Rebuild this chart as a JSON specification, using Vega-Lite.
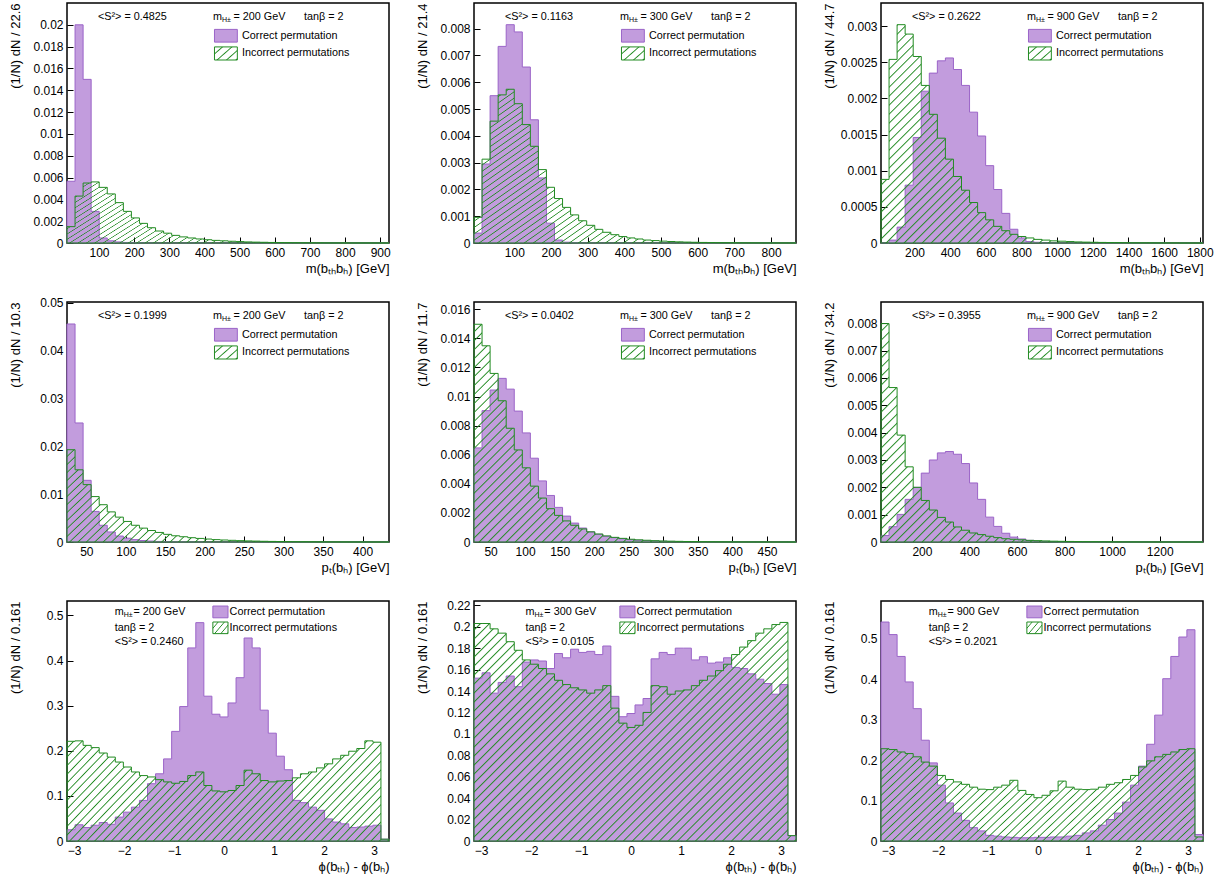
{
"$schema":"https://vega.github.io/schema/vega-lite/v6.json",
"background":"white",
"padding":{"left":8,"top":2,"right":2,"bottom":2},
"config":{
 "font":"Liberation Sans",
 "numberFormat":".6~g",
 "view":{"stroke":"#000","strokeWidth":1.5},
 "axis":{"domain":false,"grid":false,"labelFont":"Liberation Sans","labelFontSize":12,"labelColor":"#000","titleFont":"Liberation Sans","titleFontSize":13,"titleFontWeight":"normal","titleColor":"#000","tickColor":"#000","tickSize":-6,"tickWidth":1,"tickCount":30,"labelPadding":10,"labelFlush":false,"labelOverlap":false,"titleAnchor":"end"},
 "axisY":{"minExtent":39,"maxExtent":39,"titlePadding":6},
 "axisX":{"minExtent":16,"maxExtent":16,"titlePadding":3},
 "text":{"font":"Liberation Sans","fontSize":10.8,"align":"left","baseline":"middle","color":"#000"},
 "style":{
  "hatchB":{"color":{"gradient":"linear","x1":0,"y1":0,"x2":1.1927,"y2":0.3578,"stops":[
{"offset":0,"color":"#228b2200"},{"offset":0.014,"color":"#228b2200"},{"offset":0.017,"color":"#228b22"},
{"offset":0.02,"color":"#228b2200"},{"offset":0.034,"color":"#228b2200"},{"offset":0.037,"color":"#228b22"},
{"offset":0.04,"color":"#228b2200"},{"offset":0.054,"color":"#228b2200"},{"offset":0.057,"color":"#228b22"},
{"offset":0.06,"color":"#228b2200"},{"offset":0.074,"color":"#228b2200"},{"offset":0.077,"color":"#228b22"},
{"offset":0.08,"color":"#228b2200"},{"offset":0.094,"color":"#228b2200"},{"offset":0.097,"color":"#228b22"},
{"offset":0.1,"color":"#228b2200"},{"offset":0.114,"color":"#228b2200"},{"offset":0.117,"color":"#228b22"},
{"offset":0.12,"color":"#228b2200"},{"offset":0.134,"color":"#228b2200"},{"offset":0.137,"color":"#228b22"},
{"offset":0.14,"color":"#228b2200"},{"offset":0.154,"color":"#228b2200"},{"offset":0.157,"color":"#228b22"},
{"offset":0.16,"color":"#228b2200"},{"offset":0.174,"color":"#228b2200"},{"offset":0.177,"color":"#228b22"},
{"offset":0.18,"color":"#228b2200"},{"offset":0.194,"color":"#228b2200"},{"offset":0.197,"color":"#228b22"},
{"offset":0.2,"color":"#228b2200"},{"offset":0.214,"color":"#228b2200"},{"offset":0.217,"color":"#228b22"},
{"offset":0.22,"color":"#228b2200"},{"offset":0.234,"color":"#228b2200"},{"offset":0.237,"color":"#228b22"},
{"offset":0.24,"color":"#228b2200"},{"offset":0.254,"color":"#228b2200"},{"offset":0.257,"color":"#228b22"},
{"offset":0.26,"color":"#228b2200"},{"offset":0.274,"color":"#228b2200"},{"offset":0.277,"color":"#228b22"},
{"offset":0.28,"color":"#228b2200"},{"offset":0.294,"color":"#228b2200"},{"offset":0.297,"color":"#228b22"},
{"offset":0.3,"color":"#228b2200"},{"offset":0.314,"color":"#228b2200"},{"offset":0.317,"color":"#228b22"},
{"offset":0.32,"color":"#228b2200"},{"offset":0.334,"color":"#228b2200"},{"offset":0.337,"color":"#228b22"},
{"offset":0.34,"color":"#228b2200"},{"offset":0.354,"color":"#228b2200"},{"offset":0.357,"color":"#228b22"},
{"offset":0.36,"color":"#228b2200"},{"offset":0.374,"color":"#228b2200"},{"offset":0.377,"color":"#228b22"},
{"offset":0.38,"color":"#228b2200"},{"offset":0.394,"color":"#228b2200"},{"offset":0.397,"color":"#228b22"},
{"offset":0.4,"color":"#228b2200"},{"offset":0.414,"color":"#228b2200"},{"offset":0.417,"color":"#228b22"},
{"offset":0.42,"color":"#228b2200"},{"offset":0.434,"color":"#228b2200"},{"offset":0.437,"color":"#228b22"},
{"offset":0.44,"color":"#228b2200"},{"offset":0.454,"color":"#228b2200"},{"offset":0.457,"color":"#228b22"},
{"offset":0.46,"color":"#228b2200"},{"offset":0.474,"color":"#228b2200"},{"offset":0.477,"color":"#228b22"},
{"offset":0.48,"color":"#228b2200"},{"offset":0.494,"color":"#228b2200"},{"offset":0.497,"color":"#228b22"},
{"offset":0.5,"color":"#228b2200"},{"offset":0.514,"color":"#228b2200"},{"offset":0.517,"color":"#228b22"},
{"offset":0.52,"color":"#228b2200"},{"offset":0.534,"color":"#228b2200"},{"offset":0.537,"color":"#228b22"},
{"offset":0.54,"color":"#228b2200"},{"offset":0.554,"color":"#228b2200"},{"offset":0.557,"color":"#228b22"},
{"offset":0.56,"color":"#228b2200"},{"offset":0.574,"color":"#228b2200"},{"offset":0.577,"color":"#228b22"},
{"offset":0.58,"color":"#228b2200"},{"offset":0.594,"color":"#228b2200"},{"offset":0.597,"color":"#228b22"},
{"offset":0.6,"color":"#228b2200"},{"offset":0.614,"color":"#228b2200"},{"offset":0.617,"color":"#228b22"},
{"offset":0.62,"color":"#228b2200"},{"offset":0.634,"color":"#228b2200"},{"offset":0.637,"color":"#228b22"},
{"offset":0.64,"color":"#228b2200"},{"offset":0.654,"color":"#228b2200"},{"offset":0.657,"color":"#228b22"},
{"offset":0.66,"color":"#228b2200"},{"offset":0.674,"color":"#228b2200"},{"offset":0.677,"color":"#228b22"},
{"offset":0.68,"color":"#228b2200"},{"offset":0.694,"color":"#228b2200"},{"offset":0.697,"color":"#228b22"},
{"offset":0.7,"color":"#228b2200"},{"offset":0.714,"color":"#228b2200"},{"offset":0.717,"color":"#228b22"},
{"offset":0.72,"color":"#228b2200"},{"offset":0.734,"color":"#228b2200"},{"offset":0.737,"color":"#228b22"},
{"offset":0.74,"color":"#228b2200"},{"offset":0.754,"color":"#228b2200"},{"offset":0.757,"color":"#228b22"},
{"offset":0.76,"color":"#228b2200"},{"offset":0.774,"color":"#228b2200"},{"offset":0.777,"color":"#228b22"},
{"offset":0.78,"color":"#228b2200"},{"offset":0.794,"color":"#228b2200"},{"offset":0.797,"color":"#228b22"},
{"offset":0.8,"color":"#228b2200"},{"offset":0.814,"color":"#228b2200"},{"offset":0.817,"color":"#228b22"},
{"offset":0.82,"color":"#228b2200"},{"offset":0.834,"color":"#228b2200"},{"offset":0.837,"color":"#228b22"},
{"offset":0.84,"color":"#228b2200"},{"offset":0.854,"color":"#228b2200"},{"offset":0.857,"color":"#228b22"},
{"offset":0.86,"color":"#228b2200"},{"offset":0.874,"color":"#228b2200"},{"offset":0.877,"color":"#228b22"},
{"offset":0.88,"color":"#228b2200"},{"offset":0.894,"color":"#228b2200"},{"offset":0.897,"color":"#228b22"},
{"offset":0.9,"color":"#228b2200"},{"offset":0.914,"color":"#228b2200"},{"offset":0.917,"color":"#228b22"},
{"offset":0.92,"color":"#228b2200"},{"offset":0.934,"color":"#228b2200"},{"offset":0.937,"color":"#228b22"},
{"offset":0.94,"color":"#228b2200"},{"offset":0.954,"color":"#228b2200"},{"offset":0.957,"color":"#228b22"},
{"offset":0.96,"color":"#228b2200"},{"offset":0.974,"color":"#228b2200"},{"offset":0.977,"color":"#228b22"},
{"offset":0.98,"color":"#228b2200"},{"offset":0.994,"color":"#228b2200"},{"offset":0.997,"color":"#228b22"},
{"offset":1,"color":"#228b2200"}]}},
  "hatchC":{"color":{"gradient":"linear","x1":0,"y1":0,"x2":1.1488,"y2":0.7812,"stops":[
{"offset":0,"color":"#228b2200"},{"offset":0.0117,"color":"#228b2200"},{"offset":0.0142,"color":"#228b22"},
{"offset":0.0167,"color":"#228b2200"},{"offset":0.0284,"color":"#228b2200"},{"offset":0.0309,"color":"#228b22"},
{"offset":0.0333,"color":"#228b2200"},{"offset":0.045,"color":"#228b2200"},{"offset":0.0475,"color":"#228b22"},
{"offset":0.05,"color":"#228b2200"},{"offset":0.0617,"color":"#228b2200"},{"offset":0.0642,"color":"#228b22"},
{"offset":0.0667,"color":"#228b2200"},{"offset":0.0784,"color":"#228b2200"},{"offset":0.0809,"color":"#228b22"},
{"offset":0.0833,"color":"#228b2200"},{"offset":0.095,"color":"#228b2200"},{"offset":0.0975,"color":"#228b22"},
{"offset":0.1,"color":"#228b2200"},{"offset":0.1117,"color":"#228b2200"},{"offset":0.1142,"color":"#228b22"},
{"offset":0.1167,"color":"#228b2200"},{"offset":0.1284,"color":"#228b2200"},{"offset":0.1309,"color":"#228b22"},
{"offset":0.1333,"color":"#228b2200"},{"offset":0.145,"color":"#228b2200"},{"offset":0.1475,"color":"#228b22"},
{"offset":0.15,"color":"#228b2200"},{"offset":0.1617,"color":"#228b2200"},{"offset":0.1642,"color":"#228b22"},
{"offset":0.1667,"color":"#228b2200"},{"offset":0.1784,"color":"#228b2200"},{"offset":0.1809,"color":"#228b22"},
{"offset":0.1833,"color":"#228b2200"},{"offset":0.195,"color":"#228b2200"},{"offset":0.1975,"color":"#228b22"},
{"offset":0.2,"color":"#228b2200"},{"offset":0.2117,"color":"#228b2200"},{"offset":0.2142,"color":"#228b22"},
{"offset":0.2167,"color":"#228b2200"},{"offset":0.2284,"color":"#228b2200"},{"offset":0.2309,"color":"#228b22"},
{"offset":0.2333,"color":"#228b2200"},{"offset":0.245,"color":"#228b2200"},{"offset":0.2475,"color":"#228b22"},
{"offset":0.25,"color":"#228b2200"},{"offset":0.2617,"color":"#228b2200"},{"offset":0.2642,"color":"#228b22"},
{"offset":0.2667,"color":"#228b2200"},{"offset":0.2784,"color":"#228b2200"},{"offset":0.2809,"color":"#228b22"},
{"offset":0.2833,"color":"#228b2200"},{"offset":0.295,"color":"#228b2200"},{"offset":0.2975,"color":"#228b22"},
{"offset":0.3,"color":"#228b2200"},{"offset":0.3117,"color":"#228b2200"},{"offset":0.3142,"color":"#228b22"},
{"offset":0.3167,"color":"#228b2200"},{"offset":0.3284,"color":"#228b2200"},{"offset":0.3309,"color":"#228b22"},
{"offset":0.3333,"color":"#228b2200"},{"offset":0.345,"color":"#228b2200"},{"offset":0.3475,"color":"#228b22"},
{"offset":0.35,"color":"#228b2200"},{"offset":0.3617,"color":"#228b2200"},{"offset":0.3642,"color":"#228b22"},
{"offset":0.3667,"color":"#228b2200"},{"offset":0.3784,"color":"#228b2200"},{"offset":0.3809,"color":"#228b22"},
{"offset":0.3833,"color":"#228b2200"},{"offset":0.395,"color":"#228b2200"},{"offset":0.3975,"color":"#228b22"},
{"offset":0.4,"color":"#228b2200"},{"offset":0.4117,"color":"#228b2200"},{"offset":0.4142,"color":"#228b22"},
{"offset":0.4167,"color":"#228b2200"},{"offset":0.4284,"color":"#228b2200"},{"offset":0.4309,"color":"#228b22"},
{"offset":0.4333,"color":"#228b2200"},{"offset":0.445,"color":"#228b2200"},{"offset":0.4475,"color":"#228b22"},
{"offset":0.45,"color":"#228b2200"},{"offset":0.4617,"color":"#228b2200"},{"offset":0.4642,"color":"#228b22"},
{"offset":0.4667,"color":"#228b2200"},{"offset":0.4784,"color":"#228b2200"},{"offset":0.4809,"color":"#228b22"},
{"offset":0.4833,"color":"#228b2200"},{"offset":0.495,"color":"#228b2200"},{"offset":0.4975,"color":"#228b22"},
{"offset":0.5,"color":"#228b2200"},{"offset":0.5117,"color":"#228b2200"},{"offset":0.5142,"color":"#228b22"},
{"offset":0.5167,"color":"#228b2200"},{"offset":0.5284,"color":"#228b2200"},{"offset":0.5309,"color":"#228b22"},
{"offset":0.5333,"color":"#228b2200"},{"offset":0.545,"color":"#228b2200"},{"offset":0.5475,"color":"#228b22"},
{"offset":0.55,"color":"#228b2200"},{"offset":0.5617,"color":"#228b2200"},{"offset":0.5642,"color":"#228b22"},
{"offset":0.5667,"color":"#228b2200"},{"offset":0.5784,"color":"#228b2200"},{"offset":0.5809,"color":"#228b22"},
{"offset":0.5833,"color":"#228b2200"},{"offset":0.595,"color":"#228b2200"},{"offset":0.5975,"color":"#228b22"},
{"offset":0.6,"color":"#228b2200"},{"offset":0.6117,"color":"#228b2200"},{"offset":0.6142,"color":"#228b22"},
{"offset":0.6167,"color":"#228b2200"},{"offset":0.6284,"color":"#228b2200"},{"offset":0.6309,"color":"#228b22"},
{"offset":0.6333,"color":"#228b2200"},{"offset":0.645,"color":"#228b2200"},{"offset":0.6475,"color":"#228b22"},
{"offset":0.65,"color":"#228b2200"},{"offset":0.6617,"color":"#228b2200"},{"offset":0.6642,"color":"#228b22"},
{"offset":0.6667,"color":"#228b2200"},{"offset":0.6784,"color":"#228b2200"},{"offset":0.6809,"color":"#228b22"},
{"offset":0.6833,"color":"#228b2200"},{"offset":0.695,"color":"#228b2200"},{"offset":0.6975,"color":"#228b22"},
{"offset":0.7,"color":"#228b2200"},{"offset":0.7117,"color":"#228b2200"},{"offset":0.7142,"color":"#228b22"},
{"offset":0.7167,"color":"#228b2200"},{"offset":0.7284,"color":"#228b2200"},{"offset":0.7309,"color":"#228b22"},
{"offset":0.7333,"color":"#228b2200"},{"offset":0.745,"color":"#228b2200"},{"offset":0.7475,"color":"#228b22"},
{"offset":0.75,"color":"#228b2200"},{"offset":0.7617,"color":"#228b2200"},{"offset":0.7642,"color":"#228b22"},
{"offset":0.7667,"color":"#228b2200"},{"offset":0.7784,"color":"#228b2200"},{"offset":0.7809,"color":"#228b22"},
{"offset":0.7833,"color":"#228b2200"},{"offset":0.795,"color":"#228b2200"},{"offset":0.7975,"color":"#228b22"},
{"offset":0.8,"color":"#228b2200"},{"offset":0.8117,"color":"#228b2200"},{"offset":0.8142,"color":"#228b22"},
{"offset":0.8167,"color":"#228b2200"},{"offset":0.8284,"color":"#228b2200"},{"offset":0.8309,"color":"#228b22"},
{"offset":0.8333,"color":"#228b2200"},{"offset":0.845,"color":"#228b2200"},{"offset":0.8475,"color":"#228b22"},
{"offset":0.85,"color":"#228b2200"},{"offset":0.8617,"color":"#228b2200"},{"offset":0.8642,"color":"#228b22"},
{"offset":0.8667,"color":"#228b2200"},{"offset":0.8784,"color":"#228b2200"},{"offset":0.8809,"color":"#228b22"},
{"offset":0.8833,"color":"#228b2200"},{"offset":0.895,"color":"#228b2200"},{"offset":0.8975,"color":"#228b22"},
{"offset":0.9,"color":"#228b2200"},{"offset":0.9117,"color":"#228b2200"},{"offset":0.9142,"color":"#228b22"},
{"offset":0.9167,"color":"#228b2200"},{"offset":0.9284,"color":"#228b2200"},{"offset":0.9309,"color":"#228b22"},
{"offset":0.9333,"color":"#228b2200"},{"offset":0.945,"color":"#228b2200"},{"offset":0.9475,"color":"#228b22"},
{"offset":0.95,"color":"#228b2200"},{"offset":0.9617,"color":"#228b2200"},{"offset":0.9642,"color":"#228b22"},
{"offset":0.9667,"color":"#228b2200"},{"offset":0.9784,"color":"#228b2200"},{"offset":0.9809,"color":"#228b22"},
{"offset":0.9833,"color":"#228b2200"},{"offset":0.995,"color":"#228b2200"},{"offset":0.9975,"color":"#228b22"},
{"offset":1,"color":"#228b2200"}]}},
  "hatchS":{"color":{"gradient":"linear","x1":0,"y1":0,"x2":1.16,"y2":0.754,"stops":[
{"offset":0,"color":"#228b2200"},{"offset":0.175,"color":"#228b2200"},{"offset":0.2125,"color":"#228b22"},
{"offset":0.25,"color":"#228b2200"},{"offset":0.425,"color":"#228b2200"},{"offset":0.4625,"color":"#228b22"},
{"offset":0.5,"color":"#228b2200"},{"offset":0.675,"color":"#228b2200"},{"offset":0.7125,"color":"#228b22"},
{"offset":0.75,"color":"#228b2200"},{"offset":0.925,"color":"#228b2200"},{"offset":0.9625,"color":"#228b22"},
{"offset":1,"color":"#228b2200"}]}}
 }
},
"datasets":{
"p1":[{"x":9,"c":0.00566,"w":0.0015},{"x":31.9,"c":0.02,"w":0.0043},{"x":54.8,"c":0.015,"w":0.0055},{"x":77.7,"c":0.0029,"w":0.0056},{"x":100.6,"c":0.00046,"w":0.0051},{"x":123.5,"c":0.0002,"w":0.0045},{"x":146.4,"c":0.0001,"w":0.0037},{"x":169.3,"c":0.00005,"w":0.0029},{"x":192.2,"c":0.00002,"w":0.0023},{"x":215.1,"c":0.00001,"w":0.0018},{"x":238,"c":0,"w":0.0014},{"x":260.9,"c":0,"w":0.0011},{"x":283.8,"c":0,"w":0.0009},{"x":306.7,"c":0,"w":0.0007},{"x":329.6,"c":0,"w":0.00056},{"x":352.5,"c":0,"w":0.00046},{"x":375.4,"c":0,"w":0.00037},{"x":398.3,"c":0,"w":0.0003},{"x":421.2,"c":0,"w":0.00024},{"x":444.1,"c":0,"w":0.0002},{"x":467,"c":0,"w":0.00016},{"x":489.9,"c":0,"w":0.00013},{"x":512.8,"c":0,"w":0.0001},{"x":535.7,"c":0,"w":0.00008},{"x":558.6,"c":0,"w":0.000065},{"x":581.5,"c":0,"w":0.00005},{"x":604.4,"c":0,"w":0.00004},{"x":627.3,"c":0,"w":0.000032},{"x":650.2,"c":0,"w":0.000025},{"x":673.1,"c":0,"w":0.00002},{"x":696,"c":0,"w":0.000016},{"x":718.9,"c":0,"w":0.000013},{"x":741.8,"c":0,"w":0.00001},{"x":764.7,"c":0,"w":0.000008},{"x":787.6,"c":0,"w":0.000006},{"x":810.5,"c":0,"w":0.000005},{"x":833.4,"c":0,"w":0.000004},{"x":856.3,"c":0,"w":0.000003},{"x":879.2,"c":0,"w":0.000002},{"x":902.1,"c":0,"w":0.000002},{"x":925,"c":0,"w":0.000002}],
"p2":[{"x":-10,"c":0.00037,"w":0.00096},{"x":11.95,"c":0.00295,"w":0.00313},{"x":33.9,"c":0.0055,"w":0.00455},{"x":55.85,"c":0.00734,"w":0.00553},{"x":77.8,"c":0.00815,"w":0.00574},{"x":99.75,"c":0.00788,"w":0.0052},{"x":121.7,"c":0.00657,"w":0.00442},{"x":143.65,"c":0.0046,"w":0.00361},{"x":165.6,"c":0.00243,"w":0.00274},{"x":187.55,"c":0.00074,"w":0.00208},{"x":209.5,"c":0.00011,"w":0.00166},{"x":231.45,"c":0.00003,"w":0.00133},{"x":253.4,"c":0.00001,"w":0.00105},{"x":275.35,"c":0,"w":0.00083},{"x":297.3,"c":0,"w":0.00066},{"x":319.25,"c":0,"w":0.00051},{"x":341.2,"c":0,"w":0.0004},{"x":363.15,"c":0,"w":0.00031},{"x":385.1,"c":0,"w":0.00024},{"x":407.05,"c":0,"w":0.00019},{"x":429,"c":0,"w":0.00015},{"x":450.95,"c":0,"w":0.00011},{"x":472.9,"c":0,"w":0.00009},{"x":494.85,"c":0,"w":0.00007},{"x":516.8,"c":0,"w":0.000055},{"x":538.75,"c":0,"w":0.000043},{"x":560.7,"c":0,"w":0.000034},{"x":582.65,"c":0,"w":0.000027},{"x":604.6,"c":0,"w":0.000021},{"x":626.55,"c":0,"w":0.000016},{"x":648.5,"c":0,"w":0.000012},{"x":670.45,"c":0,"w":0.00001},{"x":692.4,"c":0,"w":0.000008},{"x":714.35,"c":0,"w":0.000006},{"x":736.3,"c":0,"w":0.000005},{"x":758.25,"c":0,"w":0.000004},{"x":780.2,"c":0,"w":0.000003},{"x":802.15,"c":0,"w":0.000002},{"x":824.1,"c":0,"w":0.000002},{"x":846.05,"c":0,"w":0.000001},{"x":868,"c":0,"w":0.000001}],
"p3":[{"x":12,"c":0,"w":0.00088},{"x":57.15,"c":0.00004,"w":0.00254},{"x":102.3,"c":0.00022,"w":0.00302},{"x":147.45,"c":0.0008,"w":0.00289},{"x":192.6,"c":0.00146,"w":0.00258},{"x":237.75,"c":0.0021,"w":0.00218},{"x":282.9,"c":0.00235,"w":0.00178},{"x":328.05,"c":0.00252,"w":0.00145},{"x":373.2,"c":0.00256,"w":0.00116},{"x":418.35,"c":0.0024,"w":0.00092},{"x":463.5,"c":0.00218,"w":0.00073},{"x":508.65,"c":0.00181,"w":0.00056},{"x":553.8,"c":0.00148,"w":0.00042},{"x":598.95,"c":0.00107,"w":0.00032},{"x":644.1,"c":0.00074,"w":0.00023},{"x":689.25,"c":0.00041,"w":0.00017},{"x":734.4,"c":0.00019,"w":0.00012},{"x":779.55,"c":0.00007,"w":0.00009},{"x":824.7,"c":0.00002,"w":0.00007},{"x":869.85,"c":0.00001,"w":0.00005},{"x":915,"c":0,"w":0.00004},{"x":960.15,"c":0,"w":0.00003},{"x":1005.3,"c":0,"w":0.000025},{"x":1050.45,"c":0,"w":0.00002},{"x":1095.6,"c":0,"w":0.000015},{"x":1140.75,"c":0,"w":0.000012},{"x":1185.9,"c":0,"w":0.00001},{"x":1231.05,"c":0,"w":0.000008},{"x":1276.2,"c":0,"w":0.000006},{"x":1321.35,"c":0,"w":0.000005},{"x":1366.5,"c":0,"w":0.000004},{"x":1411.65,"c":0,"w":0.000003},{"x":1456.8,"c":0,"w":0.000002},{"x":1501.95,"c":0,"w":0.000002},{"x":1547.1,"c":0,"w":0.000001},{"x":1592.25,"c":0,"w":0.000001},{"x":1637.4,"c":0,"w":0.000001},{"x":1682.55,"c":0,"w":0},{"x":1727.7,"c":0,"w":0},{"x":1772.85,"c":0,"w":0},{"x":1818,"c":0,"w":0}],
"p4":[{"x":25.5,"c":0.0456,"w":0.0193},{"x":35.7,"c":0.0249,"w":0.0151},{"x":45.9,"c":0.0129,"w":0.012},{"x":56.1,"c":0.0064,"w":0.0095},{"x":66.3,"c":0.0035,"w":0.0078},{"x":76.5,"c":0.0021,"w":0.0063},{"x":86.7,"c":0.00125,"w":0.0052},{"x":96.9,"c":0.0008,"w":0.0043},{"x":107.1,"c":0.0005,"w":0.0035},{"x":117.3,"c":0.0003,"w":0.0029},{"x":127.5,"c":0.0002,"w":0.0024},{"x":137.7,"c":0.00012,"w":0.002},{"x":147.9,"c":0.00008,"w":0.0016},{"x":158.1,"c":0.00005,"w":0.0013},{"x":168.3,"c":0.00003,"w":0.0011},{"x":178.5,"c":0.00002,"w":0.0009},{"x":188.7,"c":0.00001,"w":0.00075},{"x":198.9,"c":0,"w":0.00062},{"x":209.1,"c":0,"w":0.0005},{"x":219.3,"c":0,"w":0.00042},{"x":229.5,"c":0,"w":0.00035},{"x":239.7,"c":0,"w":0.00028},{"x":249.9,"c":0,"w":0.00023},{"x":260.1,"c":0,"w":0.00019},{"x":270.3,"c":0,"w":0.00015},{"x":280.5,"c":0,"w":0.00012},{"x":290.7,"c":0,"w":0.0001},{"x":300.9,"c":0,"w":0.00008},{"x":311.1,"c":0,"w":0.00006},{"x":321.3,"c":0,"w":0.00005},{"x":331.5,"c":0,"w":0.00004},{"x":341.7,"c":0,"w":0.00003},{"x":351.9,"c":0,"w":0.000025},{"x":362.1,"c":0,"w":0.00002},{"x":372.3,"c":0,"w":0.000015},{"x":382.5,"c":0,"w":0.00001},{"x":392.7,"c":0,"w":0.000008},{"x":402.9,"c":0,"w":0.000006},{"x":413.1,"c":0,"w":0.000005},{"x":423.3,"c":0,"w":0.000004},{"x":433.5,"c":0,"w":0.000004}],
"p5":[{"x":26,"c":0.00647,"w":0.01497},{"x":37.65,"c":0.00903,"w":0.01349},{"x":49.3,"c":0.01045,"w":0.01159},{"x":60.95,"c":0.01125,"w":0.00971},{"x":72.6,"c":0.01051,"w":0.00782},{"x":84.25,"c":0.009,"w":0.00633},{"x":95.9,"c":0.0075,"w":0.0051},{"x":107.55,"c":0.00576,"w":0.00384},{"x":119.2,"c":0.0042,"w":0.00302},{"x":130.85,"c":0.0032,"w":0.00229},{"x":142.5,"c":0.00238,"w":0.00183},{"x":154.15,"c":0.00178,"w":0.00145},{"x":165.8,"c":0.0013,"w":0.00115},{"x":177.45,"c":0.00096,"w":0.0009},{"x":189.1,"c":0.00069,"w":0.0007},{"x":200.75,"c":0.00053,"w":0.00055},{"x":212.4,"c":0.00039,"w":0.00042},{"x":224.05,"c":0.0003,"w":0.00032},{"x":235.7,"c":0.00022,"w":0.00025},{"x":247.35,"c":0.00016,"w":0.00019},{"x":259,"c":0.00012,"w":0.00015},{"x":270.65,"c":0.00009,"w":0.00012},{"x":282.3,"c":0.00007,"w":0.00009},{"x":293.95,"c":0.00005,"w":0.00007},{"x":305.6,"c":0.00004,"w":0.000055},{"x":317.25,"c":0.00003,"w":0.000045},{"x":328.9,"c":0.00002,"w":0.000035},{"x":340.55,"c":0.000015,"w":0.000028},{"x":352.2,"c":0.00001,"w":0.000022},{"x":363.85,"c":0.000008,"w":0.000017},{"x":375.5,"c":0.000006,"w":0.000013},{"x":387.15,"c":0.000004,"w":0.00001},{"x":398.8,"c":0.000003,"w":0.000008},{"x":410.45,"c":0.000002,"w":0.000006},{"x":422.1,"c":0.000002,"w":0.000005},{"x":433.75,"c":0.000001,"w":0.000004},{"x":445.4,"c":0,"w":0.000003},{"x":457.05,"c":0,"w":0.000002},{"x":468.7,"c":0,"w":0.000002},{"x":480.35,"c":0,"w":0.000001},{"x":492,"c":0,"w":0.000001}],
"p6":[{"x":28,"c":0.00024,"w":0.00799},{"x":61.85,"c":0.00056,"w":0.00565},{"x":95.7,"c":0.00101,"w":0.00391},{"x":129.55,"c":0.00156,"w":0.00275},{"x":163.4,"c":0.002,"w":0.002},{"x":197.25,"c":0.00252,"w":0.00152},{"x":231.1,"c":0.003,"w":0.00117},{"x":264.95,"c":0.00326,"w":0.0009},{"x":298.8,"c":0.00331,"w":0.00073},{"x":332.65,"c":0.00321,"w":0.00055},{"x":366.5,"c":0.00287,"w":0.00043},{"x":400.35,"c":0.00216,"w":0.00033},{"x":434.2,"c":0.00156,"w":0.00027},{"x":468.05,"c":0.00091,"w":0.00021},{"x":501.9,"c":0.00057,"w":0.00016},{"x":535.75,"c":0.00032,"w":0.00012},{"x":569.6,"c":0.00018,"w":0.0001},{"x":603.45,"c":0.00011,"w":0.00008},{"x":637.3,"c":0.00006,"w":0.00006},{"x":671.15,"c":0.00003,"w":0.00005},{"x":705,"c":0.00002,"w":0.00004},{"x":738.85,"c":0.00001,"w":0.00003},{"x":772.7,"c":0,"w":0.000025},{"x":806.55,"c":0,"w":0.00002},{"x":840.4,"c":0,"w":0.000015},{"x":874.25,"c":0,"w":0.000012},{"x":908.1,"c":0,"w":0.00001},{"x":941.95,"c":0,"w":0.000008},{"x":975.8,"c":0,"w":0.000006},{"x":1009.65,"c":0,"w":0.000005},{"x":1043.5,"c":0,"w":0.000004},{"x":1077.35,"c":0,"w":0.000003},{"x":1111.2,"c":0,"w":0.000002},{"x":1145.05,"c":0,"w":0.000002},{"x":1178.9,"c":0,"w":0.000001},{"x":1212.75,"c":0,"w":0.000001},{"x":1246.6,"c":0,"w":0},{"x":1280.45,"c":0,"w":0},{"x":1314.3,"c":0,"w":0},{"x":1348.15,"c":0,"w":0},{"x":1382,"c":0,"w":0}],
"p7":[{"x":-3.1416,"c":0.025,"w":0.221},{"x":-2.9806,"c":0.036,"w":0.222},{"x":-2.8196,"c":0.03,"w":0.212},{"x":-2.6586,"c":0.035,"w":0.207},{"x":-2.4976,"c":0.041,"w":0.195},{"x":-2.3366,"c":0.037,"w":0.186},{"x":-2.1756,"c":0.053,"w":0.175},{"x":-2.0146,"c":0.064,"w":0.164},{"x":-1.8536,"c":0.075,"w":0.153},{"x":-1.6926,"c":0.09,"w":0.145},{"x":-1.5316,"c":0.127,"w":0.142},{"x":-1.3706,"c":0.149,"w":0.136},{"x":-1.2096,"c":0.182,"w":0.131},{"x":-1.0486,"c":0.243,"w":0.128},{"x":-0.8876,"c":0.298,"w":0.132},{"x":-0.7266,"c":0.428,"w":0.145},{"x":-0.5656,"c":0.484,"w":0.153},{"x":-0.4046,"c":0.321,"w":0.123},{"x":-0.2436,"c":0.281,"w":0.111},{"x":-0.0826,"c":0.275,"w":0.109},{"x":0.0784,"c":0.306,"w":0.112},{"x":0.2394,"c":0.362,"w":0.123},{"x":0.4004,"c":0.45,"w":0.157},{"x":0.5614,"c":0.428,"w":0.149},{"x":0.7224,"c":0.29,"w":0.134},{"x":0.8834,"c":0.239,"w":0.131},{"x":1.0444,"c":0.188,"w":0.133},{"x":1.2054,"c":0.158,"w":0.134},{"x":1.3664,"c":0.09,"w":0.14},{"x":1.5274,"c":0.085,"w":0.149},{"x":1.6884,"c":0.075,"w":0.153},{"x":1.8494,"c":0.068,"w":0.162},{"x":2.0104,"c":0.049,"w":0.171},{"x":2.1714,"c":0.042,"w":0.182},{"x":2.3324,"c":0.038,"w":0.19},{"x":2.4934,"c":0.03,"w":0.199},{"x":2.6544,"c":0.031,"w":0.205},{"x":2.8154,"c":0.033,"w":0.222},{"x":2.9764,"c":0.035,"w":0.219},{"x":3.1374,"c":0.004,"w":0.004},{"x":3.2984,"c":0.004,"w":0.004}],
"p8":[{"x":-3.1416,"c":0.152,"w":0.203},{"x":-2.9806,"c":0.157,"w":0.203},{"x":-2.8196,"c":0.138,"w":0.198},{"x":-2.6586,"c":0.148,"w":0.194},{"x":-2.4976,"c":0.154,"w":0.186},{"x":-2.3366,"c":0.144,"w":0.178},{"x":-2.1756,"c":0.167,"w":0.169},{"x":-2.0146,"c":0.169,"w":0.165},{"x":-1.8536,"c":0.168,"w":0.161},{"x":-1.6926,"c":0.161,"w":0.156},{"x":-1.5316,"c":0.175,"w":0.15},{"x":-1.3706,"c":0.171,"w":0.146},{"x":-1.2096,"c":0.179,"w":0.143},{"x":-1.0486,"c":0.176,"w":0.141},{"x":-0.8876,"c":0.177,"w":0.138},{"x":-0.7266,"c":0.174,"w":0.141},{"x":-0.5656,"c":0.182,"w":0.145},{"x":-0.4046,"c":0.135,"w":0.124},{"x":-0.2436,"c":0.116,"w":0.11},{"x":-0.0826,"c":0.119,"w":0.106},{"x":0.0784,"c":0.127,"w":0.108},{"x":0.2394,"c":0.133,"w":0.12},{"x":0.4004,"c":0.17,"w":0.145},{"x":0.5614,"c":0.176,"w":0.144},{"x":0.7224,"c":0.174,"w":0.137},{"x":0.8834,"c":0.18,"w":0.14},{"x":1.0444,"c":0.18,"w":0.141},{"x":1.2054,"c":0.169,"w":0.145},{"x":1.3664,"c":0.172,"w":0.15},{"x":1.5274,"c":0.166,"w":0.154},{"x":1.6884,"c":0.167,"w":0.159},{"x":1.8494,"c":0.171,"w":0.165},{"x":2.0104,"c":0.162,"w":0.174},{"x":2.1714,"c":0.161,"w":0.181},{"x":2.3324,"c":0.156,"w":0.187},{"x":2.4934,"c":0.151,"w":0.194},{"x":2.6544,"c":0.147,"w":0.198},{"x":2.8154,"c":0.137,"w":0.202},{"x":2.9764,"c":0.146,"w":0.204},{"x":3.1374,"c":0.005,"w":0.005},{"x":3.2984,"c":0.005,"w":0.005}],
"p9":[{"x":-3.1416,"c":0.541,"w":0.228},{"x":-2.9806,"c":0.51,"w":0.226},{"x":-2.8196,"c":0.456,"w":0.22},{"x":-2.6586,"c":0.393,"w":0.216},{"x":-2.4976,"c":0.327,"w":0.208},{"x":-2.3366,"c":0.249,"w":0.195},{"x":-2.1756,"c":0.193,"w":0.185},{"x":-2.0146,"c":0.138,"w":0.162},{"x":-1.8536,"c":0.094,"w":0.152},{"x":-1.6926,"c":0.069,"w":0.146},{"x":-1.5316,"c":0.051,"w":0.14},{"x":-1.3706,"c":0.033,"w":0.133},{"x":-1.2096,"c":0.025,"w":0.128},{"x":-1.0486,"c":0.014,"w":0.127},{"x":-0.8876,"c":0.012,"w":0.133},{"x":-0.7266,"c":0.01,"w":0.138},{"x":-0.5656,"c":0.009,"w":0.15},{"x":-0.4046,"c":0.008,"w":0.125},{"x":-0.2436,"c":0.008,"w":0.115},{"x":-0.0826,"c":0.009,"w":0.107},{"x":0.0784,"c":0.009,"w":0.113},{"x":0.2394,"c":0.01,"w":0.124},{"x":0.4004,"c":0.01,"w":0.148},{"x":0.5614,"c":0.012,"w":0.133},{"x":0.7224,"c":0.014,"w":0.128},{"x":0.8834,"c":0.02,"w":0.127},{"x":1.0444,"c":0.025,"w":0.128},{"x":1.2054,"c":0.039,"w":0.133},{"x":1.3664,"c":0.053,"w":0.14},{"x":1.5274,"c":0.069,"w":0.144},{"x":1.6884,"c":0.096,"w":0.152},{"x":1.8494,"c":0.138,"w":0.162},{"x":2.0104,"c":0.185,"w":0.183},{"x":2.1714,"c":0.239,"w":0.198},{"x":2.3324,"c":0.311,"w":0.208},{"x":2.4934,"c":0.401,"w":0.214},{"x":2.6544,"c":0.456,"w":0.22},{"x":2.8154,"c":0.504,"w":0.226},{"x":2.9764,"c":0.522,"w":0.228},{"x":3.1374,"c":0.016,"w":0.01},{"x":3.2984,"c":0.016,"w":0.01}]
},
"columns":3,
"spacing":{"row":59,"column":85},
"bounds":"flush",
"concat":[
{"width":322,"height":240,"resolve":{"scale":{"x":"independent","y":"independent"}},"layer":[
 {"data":{"name":"p1"},"layer":[
  {"mark":{"type":"area","interpolate":"step-after","fill":"#c29cdd","stroke":"#9b64c8","strokeWidth":1},"encoding":{"x":{"field":"x","type":"quantitative","scale":{"domain":[9,925],"nice":false,"zero":false},"axis":{"values":[100,200,300,400,500,600,700,800,900],"title":"m(bₜₕbₕ) [GeV]"}},"y":{"field":"c","type":"quantitative","scale":{"domain":[0,0.022],"nice":false},"axis":{"values":[0,0.002,0.004,0.006,0.008,0.01,0.012,0.014,0.016,0.018,0.02],"title":"(1/N) dN / 22.6"}}}},
  {"mark":{"type":"area","interpolate":"step-after","style":"hatchB","stroke":"#228b22","strokeWidth":1},"encoding":{"x":{"field":"x","type":"quantitative"},"y":{"field":"w","type":"quantitative"}}}]},
 {"data":{"values":[{}]},"layer":[
  {"mark":{"type":"text","text":"<S²> = 0.4825"},"encoding":{"x":{"datum":0.0963,"scale":{"domain":[0,1]},"axis":null},"y":{"datum":0.058,"scale":{"domain":[0,1],"reverse":true},"axis":null}}},
  {"mark":{"type":"text","text":"m"},"encoding":{"x":{"datum":0.4534,"axis":null},"y":{"datum":0.058,"axis":null}}},
  {"mark":{"type":"text","text":"H±","fontSize":7,"dy":3},"encoding":{"x":{"datum":0.4814,"axis":null},"y":{"datum":0.058,"axis":null}}},
  {"mark":{"type":"text","text":"= 200 GeV"},"encoding":{"x":{"datum":0.517,"axis":null},"y":{"datum":0.058,"axis":null}}},
  {"mark":{"type":"text","text":"tanβ = 2"},"encoding":{"x":{"datum":0.736,"axis":null},"y":{"datum":0.058,"axis":null}}},
  {"mark":{"type":"rect","fill":"#c29cdd","stroke":"#9b64c8"},"encoding":{"x":{"datum":0.458,"axis":null},"x2":{"datum":0.529},"y":{"datum":0.11,"axis":null},"y2":{"datum":0.163}}},
  {"mark":{"type":"rect","style":"hatchS","stroke":"#228b22"},"encoding":{"x":{"datum":0.458,"axis":null},"x2":{"datum":0.529},"y":{"datum":0.183,"axis":null},"y2":{"datum":0.2375}}},
  {"mark":{"type":"text","text":"Correct permutation"},"encoding":{"x":{"datum":0.5435,"axis":null},"y":{"datum":0.136,"axis":null}}},
  {"mark":{"type":"text","text":"Incorrect permutations"},"encoding":{"x":{"datum":0.5435,"axis":null},"y":{"datum":0.21,"axis":null}}}]}]},
{"width":322,"height":240,"resolve":{"scale":{"x":"independent","y":"independent"}},"layer":[
 {"data":{"name":"p2"},"layer":[
  {"mark":{"type":"area","interpolate":"step-after","fill":"#c29cdd","stroke":"#9b64c8","strokeWidth":1},"encoding":{"x":{"field":"x","type":"quantitative","scale":{"domain":[-10,868],"nice":false,"zero":false},"axis":{"values":[100,200,300,400,500,600,700,800],"title":"m(bₜₕbₕ) [GeV]"}},"y":{"field":"c","type":"quantitative","scale":{"domain":[0,0.00896],"nice":false},"axis":{"values":[0,0.001,0.002,0.003,0.004,0.005,0.006,0.007,0.008],"title":"(1/N) dN / 21.4"}}}},
  {"mark":{"type":"area","interpolate":"step-after","style":"hatchC","stroke":"#228b22","strokeWidth":1},"encoding":{"x":{"field":"x","type":"quantitative"},"y":{"field":"w","type":"quantitative"}}}]},
 {"data":{"values":[{}]},"layer":[
  {"mark":{"type":"text","text":"<S²> = 0.1163"},"encoding":{"x":{"datum":0.0963,"scale":{"domain":[0,1]},"axis":null},"y":{"datum":0.058,"scale":{"domain":[0,1],"reverse":true},"axis":null}}},
  {"mark":{"type":"text","text":"m"},"encoding":{"x":{"datum":0.4534,"axis":null},"y":{"datum":0.058,"axis":null}}},
  {"mark":{"type":"text","text":"H±","fontSize":7,"dy":3},"encoding":{"x":{"datum":0.4814,"axis":null},"y":{"datum":0.058,"axis":null}}},
  {"mark":{"type":"text","text":"= 300 GeV"},"encoding":{"x":{"datum":0.517,"axis":null},"y":{"datum":0.058,"axis":null}}},
  {"mark":{"type":"text","text":"tanβ = 2"},"encoding":{"x":{"datum":0.736,"axis":null},"y":{"datum":0.058,"axis":null}}},
  {"mark":{"type":"rect","fill":"#c29cdd","stroke":"#9b64c8"},"encoding":{"x":{"datum":0.458,"axis":null},"x2":{"datum":0.529},"y":{"datum":0.11,"axis":null},"y2":{"datum":0.163}}},
  {"mark":{"type":"rect","style":"hatchS","stroke":"#228b22"},"encoding":{"x":{"datum":0.458,"axis":null},"x2":{"datum":0.529},"y":{"datum":0.183,"axis":null},"y2":{"datum":0.2375}}},
  {"mark":{"type":"text","text":"Correct permutation"},"encoding":{"x":{"datum":0.5435,"axis":null},"y":{"datum":0.136,"axis":null}}},
  {"mark":{"type":"text","text":"Incorrect permutations"},"encoding":{"x":{"datum":0.5435,"axis":null},"y":{"datum":0.21,"axis":null}}}]}]},
{"width":322,"height":240,"resolve":{"scale":{"x":"independent","y":"independent"}},"layer":[
 {"data":{"name":"p3"},"layer":[
  {"mark":{"type":"area","interpolate":"step-after","fill":"#c29cdd","stroke":"#9b64c8","strokeWidth":1},"encoding":{"x":{"field":"x","type":"quantitative","scale":{"domain":[12,1818],"nice":false,"zero":false},"axis":{"values":[200,400,600,800,1000,1200,1400,1600,1800],"title":"m(bₜₕbₕ) [GeV]"}},"y":{"field":"c","type":"quantitative","scale":{"domain":[0,0.00332],"nice":false},"axis":{"values":[0,0.0005,0.001,0.0015,0.002,0.0025,0.003],"title":"(1/N) dN / 44.7"}}}},
  {"mark":{"type":"area","interpolate":"step-after","style":"hatchC","stroke":"#228b22","strokeWidth":1},"encoding":{"x":{"field":"x","type":"quantitative"},"y":{"field":"w","type":"quantitative"}}}]},
 {"data":{"values":[{}]},"layer":[
  {"mark":{"type":"text","text":"<S²> = 0.2622"},"encoding":{"x":{"datum":0.0963,"scale":{"domain":[0,1]},"axis":null},"y":{"datum":0.058,"scale":{"domain":[0,1],"reverse":true},"axis":null}}},
  {"mark":{"type":"text","text":"m"},"encoding":{"x":{"datum":0.4534,"axis":null},"y":{"datum":0.058,"axis":null}}},
  {"mark":{"type":"text","text":"H±","fontSize":7,"dy":3},"encoding":{"x":{"datum":0.4814,"axis":null},"y":{"datum":0.058,"axis":null}}},
  {"mark":{"type":"text","text":"= 900 GeV"},"encoding":{"x":{"datum":0.517,"axis":null},"y":{"datum":0.058,"axis":null}}},
  {"mark":{"type":"text","text":"tanβ = 2"},"encoding":{"x":{"datum":0.736,"axis":null},"y":{"datum":0.058,"axis":null}}},
  {"mark":{"type":"rect","fill":"#c29cdd","stroke":"#9b64c8"},"encoding":{"x":{"datum":0.458,"axis":null},"x2":{"datum":0.529},"y":{"datum":0.11,"axis":null},"y2":{"datum":0.163}}},
  {"mark":{"type":"rect","style":"hatchS","stroke":"#228b22"},"encoding":{"x":{"datum":0.458,"axis":null},"x2":{"datum":0.529},"y":{"datum":0.183,"axis":null},"y2":{"datum":0.2375}}},
  {"mark":{"type":"text","text":"Correct permutation"},"encoding":{"x":{"datum":0.5435,"axis":null},"y":{"datum":0.136,"axis":null}}},
  {"mark":{"type":"text","text":"Incorrect permutations"},"encoding":{"x":{"datum":0.5435,"axis":null},"y":{"datum":0.21,"axis":null}}}]}]},
{"width":322,"height":240,"resolve":{"scale":{"x":"independent","y":"independent"}},"layer":[
 {"data":{"name":"p4"},"layer":[
  {"mark":{"type":"area","interpolate":"step-after","fill":"#c29cdd","stroke":"#9b64c8","strokeWidth":1},"encoding":{"x":{"field":"x","type":"quantitative","scale":{"domain":[25.5,433.5],"nice":false,"zero":false},"axis":{"values":[50,100,150,200,250,300,350,400],"title":"pₜ(bₕ) [GeV]"}},"y":{"field":"c","type":"quantitative","scale":{"domain":[0,0.0502],"nice":false},"axis":{"values":[0,0.01,0.02,0.03,0.04,0.05],"title":"(1/N) dN / 10.3"}}}},
  {"mark":{"type":"area","interpolate":"step-after","style":"hatchB","stroke":"#228b22","strokeWidth":1},"encoding":{"x":{"field":"x","type":"quantitative"},"y":{"field":"w","type":"quantitative"}}}]},
 {"data":{"values":[{}]},"layer":[
  {"mark":{"type":"text","text":"<S²> = 0.1999"},"encoding":{"x":{"datum":0.0963,"scale":{"domain":[0,1]},"axis":null},"y":{"datum":0.058,"scale":{"domain":[0,1],"reverse":true},"axis":null}}},
  {"mark":{"type":"text","text":"m"},"encoding":{"x":{"datum":0.4534,"axis":null},"y":{"datum":0.058,"axis":null}}},
  {"mark":{"type":"text","text":"H±","fontSize":7,"dy":3},"encoding":{"x":{"datum":0.4814,"axis":null},"y":{"datum":0.058,"axis":null}}},
  {"mark":{"type":"text","text":"= 200 GeV"},"encoding":{"x":{"datum":0.517,"axis":null},"y":{"datum":0.058,"axis":null}}},
  {"mark":{"type":"text","text":"tanβ = 2"},"encoding":{"x":{"datum":0.736,"axis":null},"y":{"datum":0.058,"axis":null}}},
  {"mark":{"type":"rect","fill":"#c29cdd","stroke":"#9b64c8"},"encoding":{"x":{"datum":0.458,"axis":null},"x2":{"datum":0.529},"y":{"datum":0.11,"axis":null},"y2":{"datum":0.163}}},
  {"mark":{"type":"rect","style":"hatchS","stroke":"#228b22"},"encoding":{"x":{"datum":0.458,"axis":null},"x2":{"datum":0.529},"y":{"datum":0.183,"axis":null},"y2":{"datum":0.2375}}},
  {"mark":{"type":"text","text":"Correct permutation"},"encoding":{"x":{"datum":0.5435,"axis":null},"y":{"datum":0.136,"axis":null}}},
  {"mark":{"type":"text","text":"Incorrect permutations"},"encoding":{"x":{"datum":0.5435,"axis":null},"y":{"datum":0.21,"axis":null}}}]}]},
{"width":322,"height":240,"resolve":{"scale":{"x":"independent","y":"independent"}},"layer":[
 {"data":{"name":"p5"},"layer":[
  {"mark":{"type":"area","interpolate":"step-after","fill":"#c29cdd","stroke":"#9b64c8","strokeWidth":1},"encoding":{"x":{"field":"x","type":"quantitative","scale":{"domain":[26,492],"nice":false,"zero":false},"axis":{"values":[50,100,150,200,250,300,350,400,450],"title":"pₜ(bₕ) [GeV]"}},"y":{"field":"c","type":"quantitative","scale":{"domain":[0,0.0165],"nice":false},"axis":{"values":[0,0.002,0.004,0.006,0.008,0.01,0.012,0.014,0.016],"title":"(1/N) dN / 11.7"}}}},
  {"mark":{"type":"area","interpolate":"step-after","style":"hatchC","stroke":"#228b22","strokeWidth":1},"encoding":{"x":{"field":"x","type":"quantitative"},"y":{"field":"w","type":"quantitative"}}}]},
 {"data":{"values":[{}]},"layer":[
  {"mark":{"type":"text","text":"<S²> = 0.0402"},"encoding":{"x":{"datum":0.0963,"scale":{"domain":[0,1]},"axis":null},"y":{"datum":0.058,"scale":{"domain":[0,1],"reverse":true},"axis":null}}},
  {"mark":{"type":"text","text":"m"},"encoding":{"x":{"datum":0.4534,"axis":null},"y":{"datum":0.058,"axis":null}}},
  {"mark":{"type":"text","text":"H±","fontSize":7,"dy":3},"encoding":{"x":{"datum":0.4814,"axis":null},"y":{"datum":0.058,"axis":null}}},
  {"mark":{"type":"text","text":"= 300 GeV"},"encoding":{"x":{"datum":0.517,"axis":null},"y":{"datum":0.058,"axis":null}}},
  {"mark":{"type":"text","text":"tanβ = 2"},"encoding":{"x":{"datum":0.736,"axis":null},"y":{"datum":0.058,"axis":null}}},
  {"mark":{"type":"rect","fill":"#c29cdd","stroke":"#9b64c8"},"encoding":{"x":{"datum":0.458,"axis":null},"x2":{"datum":0.529},"y":{"datum":0.11,"axis":null},"y2":{"datum":0.163}}},
  {"mark":{"type":"rect","style":"hatchS","stroke":"#228b22"},"encoding":{"x":{"datum":0.458,"axis":null},"x2":{"datum":0.529},"y":{"datum":0.183,"axis":null},"y2":{"datum":0.2375}}},
  {"mark":{"type":"text","text":"Correct permutation"},"encoding":{"x":{"datum":0.5435,"axis":null},"y":{"datum":0.136,"axis":null}}},
  {"mark":{"type":"text","text":"Incorrect permutations"},"encoding":{"x":{"datum":0.5435,"axis":null},"y":{"datum":0.21,"axis":null}}}]}]},
{"width":322,"height":240,"resolve":{"scale":{"x":"independent","y":"independent"}},"layer":[
 {"data":{"name":"p6"},"layer":[
  {"mark":{"type":"area","interpolate":"step-after","fill":"#c29cdd","stroke":"#9b64c8","strokeWidth":1},"encoding":{"x":{"field":"x","type":"quantitative","scale":{"domain":[28,1382],"nice":false,"zero":false},"axis":{"values":[200,400,600,800,1000,1200],"title":"pₜ(bₕ) [GeV]"}},"y":{"field":"c","type":"quantitative","scale":{"domain":[0,0.00878],"nice":false},"axis":{"values":[0,0.001,0.002,0.003,0.004,0.005,0.006,0.007,0.008],"title":"(1/N) dN / 34.2"}}}},
  {"mark":{"type":"area","interpolate":"step-after","style":"hatchC","stroke":"#228b22","strokeWidth":1},"encoding":{"x":{"field":"x","type":"quantitative"},"y":{"field":"w","type":"quantitative"}}}]},
 {"data":{"values":[{}]},"layer":[
  {"mark":{"type":"text","text":"<S²> = 0.3955"},"encoding":{"x":{"datum":0.0963,"scale":{"domain":[0,1]},"axis":null},"y":{"datum":0.058,"scale":{"domain":[0,1],"reverse":true},"axis":null}}},
  {"mark":{"type":"text","text":"m"},"encoding":{"x":{"datum":0.4534,"axis":null},"y":{"datum":0.058,"axis":null}}},
  {"mark":{"type":"text","text":"H±","fontSize":7,"dy":3},"encoding":{"x":{"datum":0.4814,"axis":null},"y":{"datum":0.058,"axis":null}}},
  {"mark":{"type":"text","text":"= 900 GeV"},"encoding":{"x":{"datum":0.517,"axis":null},"y":{"datum":0.058,"axis":null}}},
  {"mark":{"type":"text","text":"tanβ = 2"},"encoding":{"x":{"datum":0.736,"axis":null},"y":{"datum":0.058,"axis":null}}},
  {"mark":{"type":"rect","fill":"#c29cdd","stroke":"#9b64c8"},"encoding":{"x":{"datum":0.458,"axis":null},"x2":{"datum":0.529},"y":{"datum":0.11,"axis":null},"y2":{"datum":0.163}}},
  {"mark":{"type":"rect","style":"hatchS","stroke":"#228b22"},"encoding":{"x":{"datum":0.458,"axis":null},"x2":{"datum":0.529},"y":{"datum":0.183,"axis":null},"y2":{"datum":0.2375}}},
  {"mark":{"type":"text","text":"Correct permutation"},"encoding":{"x":{"datum":0.5435,"axis":null},"y":{"datum":0.136,"axis":null}}},
  {"mark":{"type":"text","text":"Incorrect permutations"},"encoding":{"x":{"datum":0.5435,"axis":null},"y":{"datum":0.21,"axis":null}}}]}]},
{"width":322,"height":240,"resolve":{"scale":{"x":"independent","y":"independent"}},"layer":[
 {"data":{"name":"p7"},"layer":[
  {"mark":{"type":"area","interpolate":"step-after","fill":"#c29cdd","stroke":"#9b64c8","strokeWidth":1},"encoding":{"x":{"field":"x","type":"quantitative","scale":{"domain":[-3.1416,3.2984],"nice":false,"zero":false},"axis":{"values":[-3,-2,-1,0,1,2,3],"title":"ϕ(bₜₕ) - ϕ(bₕ)"}},"y":{"field":"c","type":"quantitative","scale":{"domain":[0,0.532],"nice":false},"axis":{"values":[0,0.1,0.2,0.3,0.4,0.5],"title":"(1/N) dN / 0.161"}}}},
  {"mark":{"type":"area","interpolate":"step-after","style":"hatchB","stroke":"#228b22","strokeWidth":1},"encoding":{"x":{"field":"x","type":"quantitative"},"y":{"field":"w","type":"quantitative"}}}]},
 {"data":{"values":[{}]},"layer":[
  {"mark":{"type":"text","text":"m"},"encoding":{"x":{"datum":0.148,"scale":{"domain":[0,1]},"axis":null},"y":{"datum":0.046,"scale":{"domain":[0,1],"reverse":true},"axis":null}}},
  {"mark":{"type":"text","text":"H±","fontSize":7,"dy":3},"encoding":{"x":{"datum":0.176,"axis":null},"y":{"datum":0.046,"axis":null}}},
  {"mark":{"type":"text","text":"= 200 GeV"},"encoding":{"x":{"datum":0.2065,"axis":null},"y":{"datum":0.046,"axis":null}}},
  {"mark":{"type":"text","text":"tanβ = 2"},"encoding":{"x":{"datum":0.148,"axis":null},"y":{"datum":0.111,"axis":null}}},
  {"mark":{"type":"text","text":"<S²> = 0.2460"},"encoding":{"x":{"datum":0.148,"axis":null},"y":{"datum":0.171,"axis":null}}},
  {"mark":{"type":"rect","fill":"#c29cdd","stroke":"#9b64c8"},"encoding":{"x":{"datum":0.453,"axis":null},"x2":{"datum":0.5},"y":{"datum":0.021,"axis":null},"y2":{"datum":0.07}}},
  {"mark":{"type":"rect","style":"hatchS","stroke":"#228b22"},"encoding":{"x":{"datum":0.453,"axis":null},"x2":{"datum":0.5},"y":{"datum":0.0875,"axis":null},"y2":{"datum":0.136}}},
  {"mark":{"type":"text","text":"Correct permutation"},"encoding":{"x":{"datum":0.505,"axis":null},"y":{"datum":0.046,"axis":null}}},
  {"mark":{"type":"text","text":"Incorrect permutations"},"encoding":{"x":{"datum":0.505,"axis":null},"y":{"datum":0.111,"axis":null}}}]}]},
{"width":322,"height":240,"resolve":{"scale":{"x":"independent","y":"independent"}},"layer":[
 {"data":{"name":"p8"},"layer":[
  {"mark":{"type":"area","interpolate":"step-after","fill":"#c29cdd","stroke":"#9b64c8","strokeWidth":1},"encoding":{"x":{"field":"x","type":"quantitative","scale":{"domain":[-3.1416,3.2984],"nice":false,"zero":false},"axis":{"values":[-3,-2,-1,0,1,2,3],"title":"ϕ(bₜₕ) - ϕ(bₕ)"}},"y":{"field":"c","type":"quantitative","scale":{"domain":[0,0.224],"nice":false},"axis":{"values":[0,0.02,0.04,0.06,0.08,0.1,0.12,0.14,0.16,0.18,0.2,0.22],"title":"(1/N) dN / 0.161"}}}},
  {"mark":{"type":"area","interpolate":"step-after","style":"hatchC","stroke":"#228b22","strokeWidth":1},"encoding":{"x":{"field":"x","type":"quantitative"},"y":{"field":"w","type":"quantitative"}}}]},
 {"data":{"values":[{}]},"layer":[
  {"mark":{"type":"text","text":"m"},"encoding":{"x":{"datum":0.16,"scale":{"domain":[0,1]},"axis":null},"y":{"datum":0.046,"scale":{"domain":[0,1],"reverse":true},"axis":null}}},
  {"mark":{"type":"text","text":"H±","fontSize":7,"dy":3},"encoding":{"x":{"datum":0.188,"axis":null},"y":{"datum":0.046,"axis":null}}},
  {"mark":{"type":"text","text":"= 300 GeV"},"encoding":{"x":{"datum":0.2185,"axis":null},"y":{"datum":0.046,"axis":null}}},
  {"mark":{"type":"text","text":"tanβ = 2"},"encoding":{"x":{"datum":0.16,"axis":null},"y":{"datum":0.111,"axis":null}}},
  {"mark":{"type":"text","text":"<S²> = 0.0105"},"encoding":{"x":{"datum":0.16,"axis":null},"y":{"datum":0.171,"axis":null}}},
  {"mark":{"type":"rect","fill":"#c29cdd","stroke":"#9b64c8"},"encoding":{"x":{"datum":0.453,"axis":null},"x2":{"datum":0.5},"y":{"datum":0.021,"axis":null},"y2":{"datum":0.07}}},
  {"mark":{"type":"rect","style":"hatchS","stroke":"#228b22"},"encoding":{"x":{"datum":0.453,"axis":null},"x2":{"datum":0.5},"y":{"datum":0.0875,"axis":null},"y2":{"datum":0.136}}},
  {"mark":{"type":"text","text":"Correct permutation"},"encoding":{"x":{"datum":0.505,"axis":null},"y":{"datum":0.046,"axis":null}}},
  {"mark":{"type":"text","text":"Incorrect permutations"},"encoding":{"x":{"datum":0.505,"axis":null},"y":{"datum":0.111,"axis":null}}}]}]},
{"width":322,"height":240,"resolve":{"scale":{"x":"independent","y":"independent"}},"layer":[
 {"data":{"name":"p9"},"layer":[
  {"mark":{"type":"area","interpolate":"step-after","fill":"#c29cdd","stroke":"#9b64c8","strokeWidth":1},"encoding":{"x":{"field":"x","type":"quantitative","scale":{"domain":[-3.1416,3.2984],"nice":false,"zero":false},"axis":{"values":[-3,-2,-1,0,1,2,3],"title":"ϕ(bₜₕ) - ϕ(bₕ)"}},"y":{"field":"c","type":"quantitative","scale":{"domain":[0,0.593],"nice":false},"axis":{"values":[0,0.1,0.2,0.3,0.4,0.5],"title":"(1/N) dN / 0.161"}}}},
  {"mark":{"type":"area","interpolate":"step-after","style":"hatchB","stroke":"#228b22","strokeWidth":1},"encoding":{"x":{"field":"x","type":"quantitative"},"y":{"field":"w","type":"quantitative"}}}]},
 {"data":{"values":[{}]},"layer":[
  {"mark":{"type":"text","text":"m"},"encoding":{"x":{"datum":0.148,"scale":{"domain":[0,1]},"axis":null},"y":{"datum":0.046,"scale":{"domain":[0,1],"reverse":true},"axis":null}}},
  {"mark":{"type":"text","text":"H±","fontSize":7,"dy":3},"encoding":{"x":{"datum":0.176,"axis":null},"y":{"datum":0.046,"axis":null}}},
  {"mark":{"type":"text","text":"= 900 GeV"},"encoding":{"x":{"datum":0.2065,"axis":null},"y":{"datum":0.046,"axis":null}}},
  {"mark":{"type":"text","text":"tanβ = 2"},"encoding":{"x":{"datum":0.148,"axis":null},"y":{"datum":0.111,"axis":null}}},
  {"mark":{"type":"text","text":"<S²> = 0.2021"},"encoding":{"x":{"datum":0.148,"axis":null},"y":{"datum":0.171,"axis":null}}},
  {"mark":{"type":"rect","fill":"#c29cdd","stroke":"#9b64c8"},"encoding":{"x":{"datum":0.453,"axis":null},"x2":{"datum":0.5},"y":{"datum":0.021,"axis":null},"y2":{"datum":0.07}}},
  {"mark":{"type":"rect","style":"hatchS","stroke":"#228b22"},"encoding":{"x":{"datum":0.453,"axis":null},"x2":{"datum":0.5},"y":{"datum":0.0875,"axis":null},"y2":{"datum":0.136}}},
  {"mark":{"type":"text","text":"Correct permutation"},"encoding":{"x":{"datum":0.505,"axis":null},"y":{"datum":0.046,"axis":null}}},
  {"mark":{"type":"text","text":"Incorrect permutations"},"encoding":{"x":{"datum":0.505,"axis":null},"y":{"datum":0.111,"axis":null}}}]}]}
]
}
